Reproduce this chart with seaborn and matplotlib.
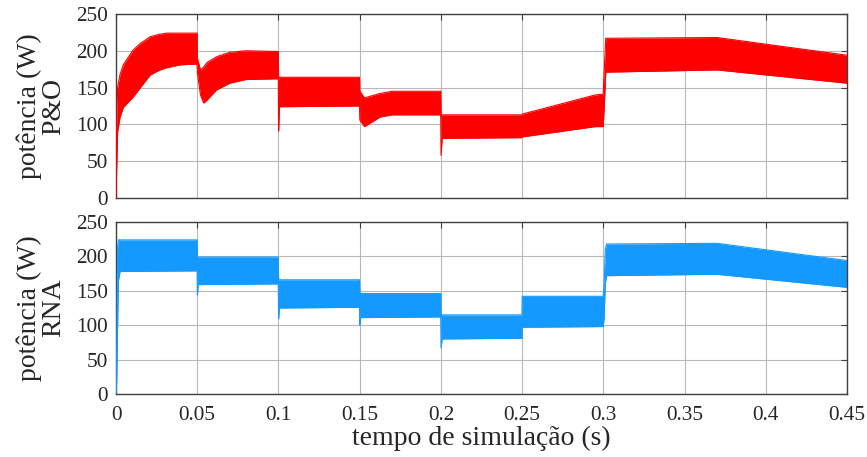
import numpy as np
import pandas as pd
import matplotlib
matplotlib.use("Agg")
import matplotlib.pyplot as plt
import seaborn as sns

# ---- data: envelope of the oscillating power signal (W) ----
t_po = [0, 0.0004, 0.001, 0.0025, 0.0045, 0.0105, 0.015, 0.021, 0.026, 0.031, 0.04, 0.0499,
        0.0501, 0.052, 0.054, 0.056, 0.062, 0.07, 0.08, 0.0999,
        0.1001, 0.1006, 0.1499,
        0.1501, 0.153, 0.1625, 0.17, 0.1999,
        0.2001, 0.2008, 0.2499,
        0.2501, 0.295, 0.2999,
        0.3005, 0.3015, 0.37, 0.45]
po_upper = [0, 100, 150, 168, 181, 201, 210, 219, 222, 224, 224, 224,
            190, 174, 178, 184, 192, 198, 200, 199,
            160, 164, 164,
            145, 136, 142, 145, 145,
            110, 113, 113,
            114, 140, 141,
            170, 217, 218, 194]
po_lower = [0, 40, 90, 110, 123, 137, 150, 167, 173, 177, 181, 182,
            170, 140, 129, 133, 147, 156, 161, 162,
            91, 124, 125,
            106, 97, 110, 113, 113,
            58, 81, 82,
            83, 97, 97,
            120, 171, 174, 156]

t_rna = [0, 0.0004, 0.001, 0.0015, 0.0025, 0.0499,
         0.0501, 0.0506, 0.0999,
         0.1001, 0.1006, 0.1499,
         0.1501, 0.1506, 0.1999,
         0.2001, 0.2008, 0.2499,
         0.2501, 0.2999,
         0.3005, 0.3012, 0.302, 0.37, 0.45]
rna_upper = [0, 60, 215, 224, 224, 224,
             199, 199, 199,
             166, 166, 166,
             146, 146, 146,
             115, 115, 115,
             142, 142,
             160, 210, 218, 219, 194]
rna_lower = [0, 20, 100, 165, 178, 179,
             144, 159, 160,
             109, 125, 126,
             100, 111, 112,
             67, 80, 81,
             97, 98,
             110, 160, 172, 174, 155]

x_ticks = [0, 0.05, 0.1, 0.15, 0.2, 0.25, 0.3, 0.35, 0.4, 0.45]
x_ticklabels = ["0", "0.05", "0.1", "0.15", "0.2", "0.25", "0.3", "0.35", "0.4", "0.45"]
y_ticks = [0, 50, 100, 150, 200, 250]
panel_labels = ["potência (W)\nP&O", "potência (W)\nRNA"]
x_label = "tempo de simulação (s)"

sns.set_style("white")
plt.rcParams["font.family"] = ["Liberation Serif", "DejaVu Serif"]

fig = plt.figure(figsize=(8.67, 4.57), dpi=100)
ax1 = fig.add_axes([0.1338, 0.5667, 0.8431, 0.4027])
ax2 = fig.add_axes([0.1338, 0.1379, 0.8431, 0.3763])

panels = [
    (ax1, t_po, po_upper, po_lower, "#FF0000", panel_labels[0]),
    (ax2, t_rna, rna_upper, rna_lower, "#1499FF", panel_labels[1]),
]

for ax, t, up, lo, col, lab in panels:
    df = pd.DataFrame({"t": t, "upper": up, "lower": lo})
    ax.fill_between(df["t"], df["lower"], df["upper"], color=col, lw=0, zorder=2)
    sns.lineplot(data=df, x="t", y="upper", ax=ax, color=col, lw=0.8, zorder=3)
    sns.lineplot(data=df, x="t", y="lower", ax=ax, color=col, lw=0.8, zorder=3)
    ax.set_xlim(0, 0.45)
    ax.set_ylim(0, 250)
    ax.set_xticks(x_ticks)
    ax.set_yticks(y_ticks)
    ax.grid(True, color="#b8b8b8", lw=0.8, zorder=0)
    ax.set_axisbelow(True)
    for s in ax.spines.values():
        s.set_color("#404040")
        s.set_linewidth(1.0)
    ax.tick_params(direction="in", length=4, width=0.8, color="#404040",
                   top=True, right=True, labelsize=15.3, pad=6)
    ax.set_ylabel(lab, fontsize=20, linespacing=0.95)
    ax.yaxis.set_label_coords(-0.068, 0.5)
    ax.set_xlabel("")

ax1.set_xticklabels([])
ax2.set_xticklabels(x_ticklabels)
ax2.tick_params(axis="x", pad=9)
ax2.set_xlabel(x_label, fontsize=20, labelpad=0)

fig.savefig("out.png", dpi=100)
